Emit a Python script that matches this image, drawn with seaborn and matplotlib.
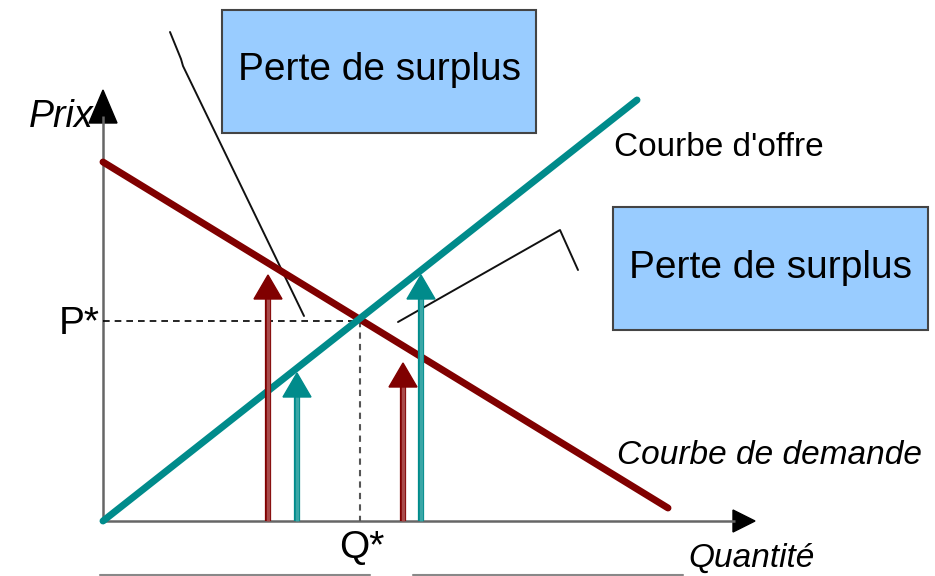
import numpy as np
import pandas as pd
import matplotlib.pyplot as plt
from matplotlib.patches import Polygon, Rectangle
import seaborn as sns

# demand / supply lines (quantity, price), origin at the axis corner
demand_q = [0, 565]
demand_p = [359, 13]
supply_q = [0, 534]
supply_p = [0, 421]
q_star = 257
p_star = 200

# vertical arrows: position, tip height, colour
arrow_q = [165, 194, 300, 318]
arrow_tip = [246, 148, 158, 246]
arrow_kind = ["demande", "offre", "demande", "offre"]

# "Perte de surplus" boxes (x0, y0, x1, y1)
box_x0 = [119, 510]
box_y0 = [388, 191]
box_x1 = [433, 825]
box_y1 = [511, 314]

# pointer lines from the boxes
ptr1_q = [67, 78, 80, 201]
ptr1_p = [489, 462, 455, 205]
ptr2_q = [295, 457, 475]
ptr2_p = [199, 291, 251]

dark_red = "#800000"
teal = "#008b8b"

sns.set_style("white")
plt.rcParams['font.family'] = ['Liberation Sans', 'DejaVu Sans']
plt.rcParams['text.color'] = "black"

fig = plt.figure(figsize=(9.35, 5.76), dpi=100)
ax = fig.add_axes([0, 0, 1, 1])
ax.set_xlim(-103, 832)
ax.set_ylim(-55, 521)
ax.axis("off")

# axes with arrow heads
ax.plot([0, 0], [0, 405], color="#666666", lw=1.8, solid_capstyle="butt")
ax.add_patch(Polygon([[-14, 398], [14, 398], [0, 431]], closed=True, color="black"))
ax.plot([0, 632], [0, 0], color="#666666", lw=1.8, solid_capstyle="butt")
ax.add_patch(Polygon([[630, 11], [630, -11], [652, 0]], closed=True, color="black"))

# equilibrium dashes
ax.plot([0, q_star], [p_star, p_star], color="black", lw=1.2, ls=(0, (4, 3)))
ax.plot([q_star, q_star], [p_star, 0], color="#555555", lw=1.5, ls=(0, (3, 2.5)))

# curves
df = pd.DataFrame({
    "q": demand_q + supply_q,
    "p": demand_p + supply_p,
    "courbe": ["demande"] * 2 + ["offre"] * 2,
})
sns.lineplot(data=df, x="q", y="p", hue="courbe",
             palette={"demande": dark_red, "offre": teal},
             lw=5, legend=False, ax=ax, zorder=3)

# arrows
shaft_col = {"demande": "#a84a4a", "offre": "#3aa7a7"}
head_col = {"demande": dark_red, "offre": teal}
for q, tip, k in zip(arrow_q, arrow_tip, arrow_kind):
    ax.plot([q, q], [0, tip - 20], color=head_col[k], lw=4.5, zorder=4,
            solid_capstyle="butt")
    ax.plot([q, q], [0, tip - 20], color=shaft_col[k], lw=2.5, zorder=4,
            solid_capstyle="butt")
    ax.add_patch(Polygon([[q - 14, tip - 24], [q + 14, tip - 24], [q, tip]],
                         closed=True, color=head_col[k], zorder=5))

# pointer lines
ax.plot(ptr1_q, ptr1_p, color="#111111", lw=1.4, zorder=2)
ax.plot(ptr2_q, ptr2_p, color="#111111", lw=1.4, zorder=2)

# boxes
for x0, y0, x1, y1 in zip(box_x0, box_y0, box_x1, box_y1):
    ax.add_patch(Rectangle((x0, y0), x1 - x0, y1 - y0, facecolor="#99ccff",
                           edgecolor="#444444", lw=1.5, zorder=6))
    ax.text((x0 + x1) / 2, (y0 + y1) / 2 + 1, "Perte de surplus", fontsize=28,
            ha="center", va="center", color="black", zorder=7)

# labels
ax.text(-10, 404, "Prix", fontsize=27, style="italic", ha="right", va="center")
ax.text(-3, 197, "P*", fontsize=28, ha="right", va="center")
ax.text(q_star + 2, -27, "Q*", fontsize=28, ha="center", va="center")
ax.text(712, -46, "Quantité", fontsize=24, style="italic", ha="right",
        va="baseline")
ax.text(511, 373, "Courbe d'offre", fontsize=24, ha="left", va="center")
ax.text(514, 66, "Courbe de demande", fontsize=24, style="italic",
        ha="left", va="center")

# bottom rules
ax.plot([-3, 267], [-54, -54], color="#888888", lw=1.5)
ax.plot([310, 580], [-54, -54], color="#888888", lw=1.5)

fig.savefig("out.png", dpi=100)
